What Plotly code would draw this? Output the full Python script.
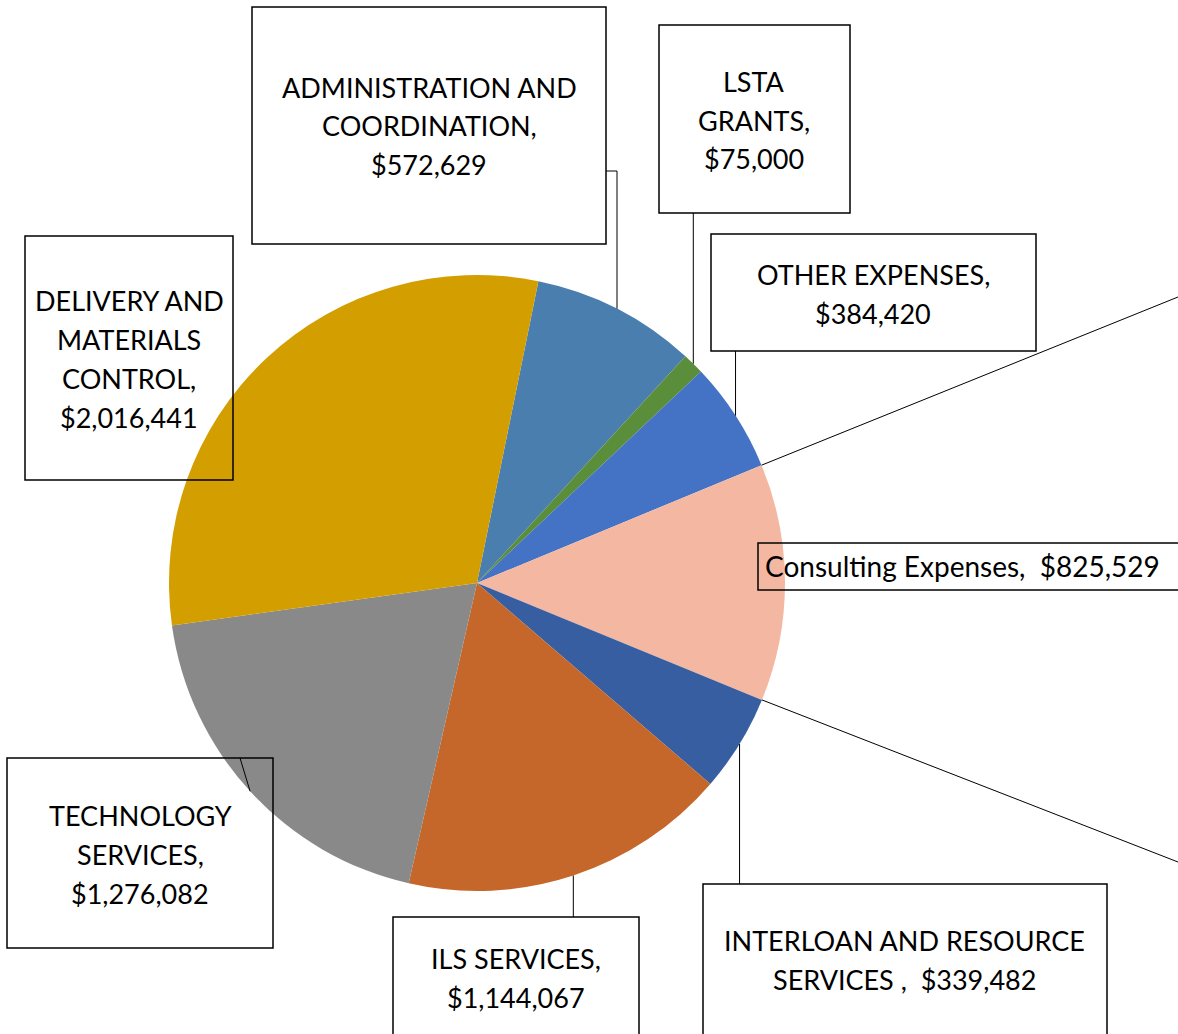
import math
import plotly.graph_objects as go

# ---------------- data ----------------
categories = [
    "ADMINISTRATION AND COORDINATION",
    "LSTA GRANTS",
    "OTHER EXPENSES",
    "Consulting Expenses",
    "INTERLOAN AND RESOURCE SERVICES",
    "ILS SERVICES",
    "TECHNOLOGY SERVICES",
    "DELIVERY AND MATERIALS CONTROL",
]
values = [572629, 75000, 384420, 825529, 339482, 1144067, 1276082, 2016441]
colors = ["#4A7EAE", "#5B8E3A", "#4472C4", "#F4B8A2",
          "#375EA1", "#C5672A", "#898989", "#D39E00"]

# label text lines (text only)
label_lines = {
    "ADMINISTRATION AND COORDINATION": ["ADMINISTRATION AND", "COORDINATION,", "${v}"],
    "LSTA GRANTS": ["LSTA", "GRANTS,", "${v}"],
    "OTHER EXPENSES": ["OTHER EXPENSES,", "${v}"],
    "Consulting Expenses": ["Consulting Expenses,\u00a0 ${v}"],
    "INTERLOAN AND RESOURCE SERVICES": ["INTERLOAN AND RESOURCE", "SERVICES ,\u00a0 ${v}"],
    "ILS SERVICES": ["ILS SERVICES,", "${v}"],
    "TECHNOLOGY SERVICES": ["TECHNOLOGY", "SERVICES,", "${v}"],
    "DELIVERY AND MATERIALS CONTROL": ["DELIVERY AND", "MATERIALS", "CONTROL,", "${v}"],
}

# ---------------- layout (pixels) ----------------
W, H = 1178, 1034
CX, CY, R = 477, 583, 308
ROT = 11.5
FONT = "Lato"
FS = 27
LINE_H = 39

# label boxes: (x0, y0, x1, y1), text anchor x, first line y, align, font size
boxes = {
    "ADMINISTRATION AND COORDINATION": ((252, 7, 606, 244), 429, 87, "center", FS),
    "LSTA GRANTS": ((659, 25, 850, 213), 754, 81, "center", FS),
    "OTHER EXPENSES": ((711, 234, 1036, 351), 873, 274, "center", FS),
    "Consulting Expenses": ((758, 543, 1190, 590), 763, 566, "left", 28),
    "INTERLOAN AND RESOURCE SERVICES": ((703, 884, 1107, 1045), 904, 940, "center", FS),
    "ILS SERVICES": ((393, 917, 639, 1045), 516, 958, "center", FS),
    "TECHNOLOGY SERVICES": ((7, 758, 273, 948), 140, 815, "center", FS),
    "DELIVERY AND MATERIALS CONTROL": ((25, 236, 233, 480), 129, 300, "center", FS),
}
# leader line start points on the box (pixels); None x -> same x as slice point
leader_from = {
    "ADMINISTRATION AND COORDINATION": [(606, 171), (617, 171)],
    "LSTA GRANTS": [(None, 213)],
    "OTHER EXPENSES": [(None, 351)],
    "INTERLOAN AND RESOURCE SERVICES": [(None, 884)],
    "ILS SERVICES": [(None, 917)],
    "TECHNOLOGY SERVICES": [(240, 758)],
}


def px(x):
    return x / W


def py(y):
    return 1 - y / H


total = sum(values)
starts = []
acc = 0.0
for v in values:
    starts.append(ROT + 360 * acc / total)
    acc += v
ends = [s + 360 * v / total for s, v in zip(starts, values)]


def on_circle(angle_deg, r=R):
    a = math.radians(angle_deg)
    return CX + r * math.sin(a), CY - r * math.cos(a)


fig = go.Figure()
fig.add_trace(go.Pie(
    labels=categories,
    values=values,
    sort=False,
    direction="clockwise",
    rotation=ROT,
    marker=dict(colors=colors, line=dict(width=0)),
    textinfo="none",
    hoverinfo="label+value",
    showlegend=False,
    domain=dict(x=[px(CX - R), px(CX + R)], y=[py(CY + R), py(CY - R)]),
))

shapes = []
annotations = []
line_style = dict(color="#000000", width=1)

for i, cat in enumerate(categories):
    (x0, y0, x1, y1), tx, ty, align, fs = boxes[cat]
    shapes.append(dict(type="rect", xref="paper", yref="paper",
                       x0=px(x0), x1=px(x1), y0=py(y0), y1=py(y1),
                       line=dict(color="#000000", width=1.5)))
    vtxt = f"{values[i]:,}"
    for k, ln in enumerate(label_lines[cat]):
        annotations.append(dict(
            xref="paper", yref="paper", x=px(tx), y=py(ty + k * LINE_H),
            text=ln.replace("{v}", vtxt), showarrow=False,
            xanchor=align, yanchor="middle",
            font=dict(family=FONT, size=fs, color="#000000")))
    if cat in leader_from:
        mid = (starts[i] + ends[i]) / 2
        ex, ey = on_circle(mid)
        pts = leader_from[cat]
        pts = [(ex if p[0] is None else p[0], p[1]) for p in pts] + [(ex, ey)]
        for (ax, ay), (bx, by) in zip(pts[:-1], pts[1:]):
            shapes.append(dict(type="line", xref="paper", yref="paper",
                               x0=px(ax), y0=py(ay), x1=px(bx), y1=py(by),
                               line=line_style))

# pie-of-pie connector lines from the Consulting slice edges
ci = categories.index("Consulting Expenses")
for ang, ty_end in ((starts[ci], 297), (ends[ci], 862)):
    sx, sy = on_circle(ang)
    shapes.append(dict(type="line", xref="paper", yref="paper",
                       x0=px(sx), y0=py(sy), x1=px(W), y1=py(ty_end),
                       line=line_style))

fig.update_layout(
    width=W, height=H,
    margin=dict(l=0, r=0, t=0, b=0),
    paper_bgcolor="#FFFFFF", plot_bgcolor="#FFFFFF",
    shapes=shapes, annotations=annotations,
)
fig.write_html("out.html")
